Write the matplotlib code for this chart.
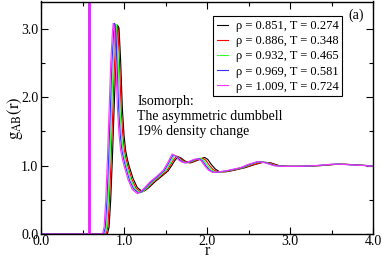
import matplotlib
matplotlib.use("Agg")
import matplotlib.pyplot as plt
from matplotlib.ticker import MultipleLocator, FormatStrFormatter

plt.rcParams['font.family'] = ['Liberation Serif', 'DejaVu Serif']
plt.rcParams['mathtext.fontset'] = 'stix'

# legend labels (density, temperature) along the isomorph
labels = ["ρ = 0.851, T = 0.274",
          "ρ = 0.886, T = 0.348",
          "ρ = 0.932, T = 0.465",
          "ρ = 0.969, T = 0.581",
          "ρ = 1.009, T = 0.724"]
colors = ["black", "red", "#33ff33", "#3333ff", "#ff33ff"]

# g_AB(r), one pair of lists per state point
r_851 = [0.0, 0.574, 0.584, 0.594, 0.80, 0.82, 0.84, 0.86, 0.88, 0.90, 0.92, 0.93, 0.94,
         0.96, 0.98, 1.00, 1.02, 1.04, 1.06, 1.11, 1.16, 1.22, 1.26, 1.31, 1.37, 1.46,
         1.53, 1.58, 1.61, 1.65, 1.69, 1.73, 1.77, 1.80, 1.85, 1.91, 1.97, 2.01, 2.05,
         2.10, 2.15, 2.23, 2.32, 2.46, 2.56, 2.68, 2.77, 2.87, 2.97, 3.17, 3.37, 3.57,
         3.67, 3.81, 3.95, 4.0]
g_851 = [0.0, 0.0, 30.0, 0.0, 0.0, 0.1, 0.5, 1.1, 1.8, 2.45, 2.92, 3.04, 3.01,
         2.52, 1.84, 1.45, 1.22, 1.10, 1.00, 0.81, 0.68, 0.62, 0.64, 0.69, 0.76, 0.85,
         0.92, 1.01, 1.07, 1.13, 1.11, 1.07, 1.05, 1.04, 1.06, 1.09, 1.12, 1.09, 1.02,
         0.95, 0.91, 0.91, 0.93, 0.97, 1.01, 1.05, 1.04, 1.00, 0.99, 0.99, 1.00, 1.02,
         1.02, 1.01, 1.00, 0.99]

r_886 = [0.0, 0.574, 0.584, 0.594, 0.785, 0.805, 0.825, 0.845, 0.865, 0.885, 0.905, 0.915, 0.925,
         0.945, 0.965, 0.985, 1.005, 1.025, 1.045, 1.095, 1.145, 1.205, 1.245, 1.295, 1.355, 1.445,
         1.515, 1.565, 1.595, 1.635, 1.675, 1.715, 1.755, 1.785, 1.835, 1.895, 1.945, 1.985, 2.025,
         2.075, 2.125, 2.205, 2.305, 2.445, 2.545, 2.665, 2.755, 2.855, 2.955, 3.155, 3.355, 3.555,
         3.655, 3.795, 3.935, 4.0]
g_886 = [0.0, 0.0, 30.0, 0.0, 0.0, 0.1, 0.5, 1.1, 1.8, 2.47, 2.93, 3.06, 3.03,
         2.54, 1.85, 1.45, 1.22, 1.10, 1.00, 0.80, 0.67, 0.61, 0.63, 0.69, 0.76, 0.85,
         0.92, 1.02, 1.08, 1.14, 1.11, 1.07, 1.05, 1.04, 1.06, 1.09, 1.11, 1.08, 1.01,
         0.94, 0.91, 0.91, 0.93, 0.97, 1.01, 1.05, 1.04, 1.00, 0.99, 0.99, 1.00, 1.02,
         1.02, 1.01, 1.00, 0.99]

r_932 = [0.0, 0.574, 0.584, 0.594, 0.77, 0.79, 0.81, 0.83, 0.85, 0.87, 0.89, 0.90, 0.91,
         0.93, 0.95, 0.97, 0.99, 1.01, 1.03, 1.08, 1.13, 1.19, 1.23, 1.28, 1.34, 1.43,
         1.50, 1.55, 1.58, 1.61, 1.65, 1.69, 1.73, 1.76, 1.81, 1.87, 1.92, 1.96, 2.00,
         2.05, 2.10, 2.18, 2.28, 2.43, 2.53, 2.64, 2.73, 2.83, 2.93, 3.13, 3.33, 3.53,
         3.63, 3.78, 3.92, 4.0]
g_932 = [0.0, 0.0, 30.0, 0.0, 0.0, 0.1, 0.5, 1.1, 1.8, 2.48, 2.94, 3.07, 3.04,
         2.55, 1.85, 1.45, 1.22, 1.10, 1.00, 0.80, 0.66, 0.60, 0.62, 0.68, 0.76, 0.85,
         0.93, 1.02, 1.09, 1.15, 1.12, 1.07, 1.05, 1.04, 1.06, 1.09, 1.11, 1.08, 1.01,
         0.94, 0.90, 0.91, 0.93, 0.97, 1.02, 1.06, 1.04, 1.00, 0.99, 0.99, 1.00, 1.02,
         1.02, 1.01, 1.00, 0.99]

r_969 = [0.0, 0.574, 0.584, 0.594, 0.755, 0.775, 0.795, 0.815, 0.835, 0.855, 0.875, 0.885, 0.895,
         0.915, 0.935, 0.955, 0.975, 0.995, 1.015, 1.065, 1.115, 1.175, 1.215, 1.265, 1.325, 1.415,
         1.485, 1.535, 1.565, 1.595, 1.635, 1.675, 1.715, 1.745, 1.795, 1.855, 1.905, 1.945, 1.985,
         2.035, 2.085, 2.165, 2.265, 2.415, 2.515, 2.625, 2.715, 2.815, 2.915, 3.115, 3.315, 3.515,
         3.615, 3.765, 3.915, 4.0]
g_969 = [0.0, 0.0, 30.0, 0.0, 0.0, 0.1, 0.5, 1.1, 1.8, 2.5, 2.95, 3.08, 3.05,
         2.55, 1.85, 1.45, 1.22, 1.10, 1.00, 0.79, 0.66, 0.60, 0.62, 0.68, 0.76, 0.85,
         0.93, 1.03, 1.10, 1.16, 1.13, 1.08, 1.05, 1.04, 1.06, 1.09, 1.10, 1.07, 1.00,
         0.93, 0.90, 0.91, 0.93, 0.97, 1.02, 1.06, 1.04, 1.00, 0.99, 0.99, 1.00, 1.02,
         1.02, 1.01, 1.00, 0.99]

r_1009 = [0.0, 0.574, 0.584, 0.594, 0.74, 0.76, 0.78, 0.80, 0.82, 0.84, 0.86, 0.87, 0.88,
          0.90, 0.92, 0.94, 0.96, 0.98, 1.00, 1.05, 1.10, 1.16, 1.20, 1.25, 1.31, 1.40,
          1.47, 1.52, 1.55, 1.58, 1.62, 1.66, 1.70, 1.73, 1.78, 1.84, 1.89, 1.93, 1.97,
          2.02, 2.07, 2.15, 2.25, 2.40, 2.50, 2.61, 2.70, 2.80, 2.90, 3.10, 3.30, 3.50,
          3.60, 3.75, 3.90, 4.0]
g_1009 = [0.0, 0.0, 30.0, 0.0, 0.0, 0.1, 0.5, 1.1, 1.8, 2.5, 2.95, 3.08, 3.05,
          2.55, 1.85, 1.45, 1.22, 1.10, 1.00, 0.79, 0.65, 0.59, 0.62, 0.68, 0.76, 0.85,
          0.93, 1.03, 1.10, 1.17, 1.14, 1.08, 1.05, 1.04, 1.06, 1.09, 1.10, 1.07, 1.00,
          0.93, 0.90, 0.91, 0.93, 0.97, 1.02, 1.06, 1.04, 1.00, 0.99, 0.99, 1.00, 1.02,
          1.02, 1.01, 1.00, 0.99]

r_all = [r_851, r_886, r_932, r_969, r_1009]
g_all = [g_851, g_886, g_932, g_969, g_1009]


def main():
    fig = plt.figure(figsize=(3.82, 2.58), dpi=100)
    ax = fig.add_axes([41 / 382, 1 - 234 / 258, 332 / 382, 232.5 / 258])

    for r, g, c, lab in zip(r_all, g_all, colors, labels):
        ax.plot(r, g, color=c, lw=0.8, label=lab)

    ax.set_xlim(0, 4.0)
    ax.set_ylim(0, 3.4)
    ax.xaxis.set_major_locator(MultipleLocator(1.0))
    ax.xaxis.set_minor_locator(MultipleLocator(0.5))
    ax.yaxis.set_major_locator(MultipleLocator(1.0))
    ax.yaxis.set_minor_locator(MultipleLocator(0.5))
    ax.xaxis.set_major_formatter(FormatStrFormatter('%.1f'))
    ax.yaxis.set_major_formatter(FormatStrFormatter('%.1f'))
    ax.tick_params(which='both', direction='in', top=True, right=True, labelsize=10)
    ax.tick_params(axis='x', pad=1)
    ax.tick_params(axis='y', pad=2)
    ax.tick_params(which='major', length=5, width=0.8)
    ax.tick_params(which='minor', length=3, width=0.8)
    for s in ax.spines.values():
        s.set_linewidth(1.0)

    # axis titles placed directly in figure coordinates
    fig.text(207 / 382, 1 - 251 / 258, 'r', fontsize=11.5, ha='center', va='center')
    fig.text(15 / 382, 1 - 118 / 258, r'$\mathrm{g_{AB}(r)}$', fontsize=12,
             rotation=90, ha='center', va='center')

    leg = ax.legend(loc='upper right', bbox_to_anchor=(0.907, 0.936), fontsize=9,
                    frameon=True, fancybox=False, edgecolor='black', framealpha=1,
                    handlelength=0.9, handletextpad=0.6, labelspacing=0.25,
                    borderpad=0.3, borderaxespad=0)
    leg.get_frame().set_linewidth(0.8)

    ax.text(0.925, 0.94, '(a)', transform=ax.transAxes, fontsize=10, va='center', ha='left')
    ax.text(1.16, 1.72, 'Isomorph:\nThe asymmetric dumbbell\n19% density change',
            fontsize=10, va='center', ha='left', linespacing=1.2)

    fig.savefig('out.png', dpi=100)


if __name__ == "__main__":
    main()
